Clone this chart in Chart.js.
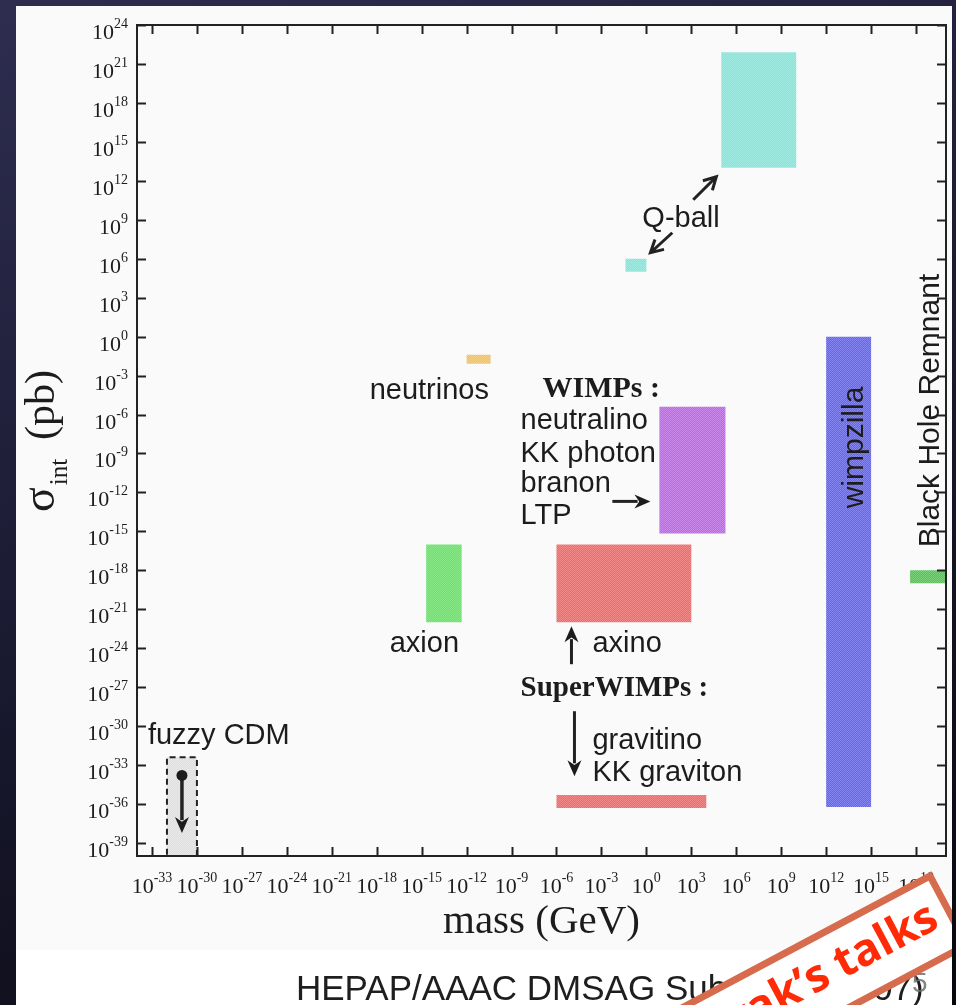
<!DOCTYPE html>
<html>
<head>
<meta charset="utf-8">
<title>Dark matter candidates</title>
<script src="https://cdn.jsdelivr.net/npm/chart.js@4.4.1/dist/chart.umd.min.js"></script>
<style>
  html, body { margin: 0; padding: 0; }
  body {
    width: 956px; height: 1005px; overflow: hidden; position: relative;
    background: linear-gradient(160deg, #2e2d50 0%, #1b1b33 45%, #07070d 100%);
  }
  #sheet { position: absolute; left: 16px; top: 6px; width: 936px; height: 999px; background: #ffffff; }
  #plotBg { position: absolute; left: 16px; top: 6px; width: 936px; height: 944px; background: #fafafa; }
  #chart { position: absolute; left: 0; top: 0; }
</style>
</head>
<body>
<div id="sheet"></div>
<div id="plotBg"></div>
<canvas id="chart" width="956" height="1005"></canvas>
<script>
// candidate regions: mass (GeV) and interaction cross section (pb)
const candidates = ['Q-ball', 'Q-ball', 'neutrinos', 'WIMPs', 'axion', 'axino', 'gravitino', 'wimpzilla', 'Black Hole Remnant', 'fuzzy CDM'];
const massMin  = [1e5,  0.04, 1e-12, 7.4,   2e-15,   1e-6,  1e-6,  1e12,  4e17,  1e-32];
const massMax  = [1e10, 1,    4e-11, 1.9e5, 4.7e-13, 1e3,   1e4,   1e15,  1e20,  1e-30];
const sigmaMin = [1e13, 1e5,  8e-3,  7e-16, 1e-22,   1e-22, 5e-37, 6e-37, 1e-19, 1e-40];
const sigmaMax = [8e21, 1e6,  4e-2,  4e-6,  1e-16,   1e-16, 5e-36, 1,     1e-18, 4e-33];
const fillColors = ['#84e6da', '#84e6da', '#f2c260', '#bc68e6', '#66e466', '#f06a6a', '#f06a6a', '#6464f0', '#54c454', '#e0e0e0'];

// fuzzy CDM upper limit and its arrow
const fuzzyMass = 1e-31;
const fuzzySigma = 1.6e-34;
const fuzzyArrowTo = 6e-39;

// tick exponents (powers of ten)
const massTicks = [-33, -30, -27, -24, -21, -18, -15, -12, -9, -6, -3, 0, 3, 6, 9, 12, 15, 18];
const sigmaTicks = [24, 21, 18, 15, 12, 9, 6, 3, 0, -3, -6, -9, -12, -15, -18, -21, -24, -27, -30, -33, -36, -39];

const SANS = "'Liberation Sans', Arial, sans-serif";
const SERIF = "'Liberation Serif', 'Times New Roman', serif";

// text placed at log10(mass), log10(sigma)
const notes = [
  { text: 'Q-ball', m: -0.27, s: 8.46 },
  { text: 'neutrinos', m: -18.47, s: -4.77 },
  { text: 'WIMPs :', m: -6.93, s: -4.62, font: 'bold 30px ' + SERIF },
  { text: 'neutralino', m: -8.4, s: -7.15 },
  { text: 'KK photon', m: -8.4, s: -9.62 },
  { text: 'branon', m: -8.4, s: -12.0 },
  { text: 'LTP', m: -8.4, s: -14.46 },
  { text: 'axion', m: -17.13, s: -24.31 },
  { text: 'axino', m: -3.6, s: -24.31 },
  { text: 'SuperWIMPs :', m: -8.4, s: -27.69, font: 'bold 29px ' + SERIF },
  { text: 'gravitino', m: -3.6, s: -31.77 },
  { text: 'KK graviton', m: -3.6, s: -34.23 },
  { text: 'fuzzy CDM', m: -33.27, s: -31.38 },
  { text: 'wimpzilla', m: 14.47, s: -8.54, rotate: true, font: '30px ' + SANS },
  { text: 'Black Hole Remnant', m: 19.53, s: -5.69, rotate: true, font: '30px ' + SANS }
];

const pointers = [
  { from: [3.13, 10.54], to: [4.67, 12.31], head: 'open' },
  { from: [1.73, 8.0], to: [0.27, 6.46], head: 'open' },
  { from: [-2.27, -12.69], to: [0.27, -12.69], head: 'solid' },
  { from: [-5.0, -25.23], to: [-5.0, -22.31], head: 'solid' },
  { from: [-4.8, -28.85], to: [-4.8, -33.85], head: 'solid' }
];

function dither(color) {
  const c = document.createElement('canvas');
  c.width = 2; c.height = 2;
  const g = c.getContext('2d');
  g.fillStyle = color;
  g.fillRect(0, 0, 2, 2);
  g.fillStyle = 'rgba(255,255,255,0.22)';
  g.fillRect(0, 0, 1, 1);
  g.fillRect(1, 1, 1, 1);
  return g.createPattern(c, 'repeat');
}

const datasets = candidates.map((name, i) => ({
  label: name,
  data: [
    { x: massMin[i], y: sigmaMin[i] },
    { x: massMax[i], y: sigmaMin[i] },
    { x: massMax[i], y: sigmaMax[i] },
    { x: massMin[i], y: sigmaMax[i] },
    { x: massMin[i], y: sigmaMin[i] }
  ],
  fill: 'shape',
  backgroundColor: dither(fillColors[i]),
  borderColor: name === 'fuzzy CDM' ? '#222' : 'transparent',
  borderWidth: name === 'fuzzy CDM' ? 2 : 0,
  borderDash: name === 'fuzzy CDM' ? [6, 4] : [],
  pointRadius: 0,
  tension: 0
}));

function arrow(ctx, x1, y1, x2, y2, head) {
  const ang = Math.atan2(y2 - y1, x2 - x1);
  const len = head === 'open' ? 14 : 16;
  ctx.beginPath();
  if (head === 'open') {
    ctx.moveTo(x1, y1);
    ctx.lineTo(x2, y2);
    ctx.moveTo(x2 - len * Math.cos(ang - 0.5), y2 - len * Math.sin(ang - 0.5));
    ctx.lineTo(x2, y2);
    ctx.lineTo(x2 - len * Math.cos(ang + 0.5), y2 - len * Math.sin(ang + 0.5));
    ctx.stroke();
  } else {
    ctx.moveTo(x1, y1);
    ctx.lineTo(x2 - len * 0.8 * Math.cos(ang), y2 - len * 0.8 * Math.sin(ang));
    ctx.stroke();
    ctx.beginPath();
    ctx.moveTo(x2, y2);
    ctx.lineTo(x2 - len * Math.cos(ang) + 7 * Math.sin(ang), y2 - len * Math.sin(ang) - 7 * Math.cos(ang));
    ctx.lineTo(x2 - len * 0.7 * Math.cos(ang), y2 - len * 0.7 * Math.sin(ang));
    ctx.lineTo(x2 - len * Math.cos(ang) - 7 * Math.sin(ang), y2 - len * Math.sin(ang) + 7 * Math.cos(ang));
    ctx.closePath();
    ctx.fill();
  }
}

function power(ctx, e, x, baseY, expY, align) {
  const exp = String(e);
  ctx.font = '22px ' + SERIF;
  const wb = ctx.measureText('10').width;
  ctx.font = '14px ' + SERIF;
  const we = ctx.measureText(exp).width;
  const left = align === 'right' ? x - wb - we : x - (wb + we) / 2;
  ctx.textAlign = 'left';
  ctx.font = '22px ' + SERIF;
  ctx.fillText('10', left, baseY);
  ctx.font = '14px ' + SERIF;
  ctx.fillText(exp, left + wb, expY);
}

const decorations = {
  id: 'decorations',
  afterDatasetsDraw(chart) {
    const { ctx, chartArea: a, scales: { x, y } } = chart;
    const px = m => x.getPixelForValue(Math.pow(10, m));
    const py = s => y.getPixelForValue(Math.pow(10, s));

    ctx.save();
    ctx.strokeStyle = '#222';
    ctx.fillStyle = '#1c1c1c';
    ctx.lineWidth = 2;
    ctx.strokeRect(a.left, a.top, a.right - a.left, a.bottom - a.top);

    // inward ticks on all four sides
    ctx.beginPath();
    massTicks.forEach(e => {
      const tx = Math.round(px(e)) + 0.5;
      ctx.moveTo(tx, a.bottom); ctx.lineTo(tx, a.bottom - 9);
      ctx.moveTo(tx, a.top); ctx.lineTo(tx, a.top + 9);
    });
    sigmaTicks.forEach(e => {
      const ty = Math.round(py(e)) + 0.5;
      ctx.moveTo(a.left, ty); ctx.lineTo(a.left + 9, ty);
      ctx.moveTo(a.right, ty); ctx.lineTo(a.right - 9, ty);
    });
    ctx.stroke();

    // fuzzy CDM limit
    const fx = x.getPixelForValue(fuzzyMass);
    ctx.lineWidth = 3.5;
    arrow(ctx, fx, y.getPixelForValue(fuzzySigma), fx, y.getPixelForValue(fuzzyArrowTo), 'solid');
    ctx.beginPath();
    ctx.arc(fx, y.getPixelForValue(fuzzySigma), 5.5, 0, Math.PI * 2);
    ctx.fill();

    ctx.lineWidth = 3;
    pointers.forEach(p => arrow(ctx, px(p.from[0]), py(p.from[1]), px(p.to[0]), py(p.to[1]), p.head));

    notes.forEach(n => {
      ctx.font = n.font || '29px ' + SANS;
      if (n.rotate) {
        ctx.save();
        ctx.translate(px(n.m), py(n.s));
        ctx.rotate(-Math.PI / 2);
        ctx.textAlign = 'center';
        ctx.fillText(n.text, 0, 0);
        ctx.restore();
      } else {
        ctx.textAlign = 'left';
        ctx.fillText(n.text, px(n.m), py(n.s));
      }
    });

    // tick labels
    sigmaTicks.forEach(e => {
      const ty = py(e);
      power(ctx, e, a.left - 9, ty + 14, ty + 3, 'right');
    });
    massTicks.forEach(e => {
      power(ctx, e, px(e), a.bottom + 37, a.bottom + 26, 'center');
    });

    // axis titles
    ctx.textAlign = 'center';
    ctx.font = '41px ' + SERIF;
    ctx.fillText('mass (GeV)', (a.left + a.right) / 2, a.bottom + 77);

    ctx.save();
    ctx.translate(54, 512);
    ctx.rotate(-Math.PI / 2);
    ctx.textAlign = 'left';
    ctx.font = '46px ' + SERIF;
    ctx.fillText('σ', 0, 0);
    const ws = ctx.measureText('σ').width;
    ctx.font = '25px ' + SERIF;
    ctx.fillText('int', ws + 2, 13);
    ctx.font = '42px ' + SERIF;
    ctx.fillText('(pb)', 72, 0);
    ctx.restore();

    // caption, slide number and stamp
    ctx.textAlign = 'left';
    ctx.font = '35px ' + SANS;
    ctx.fillStyle = '#1e1e1e';
    ctx.fillText('HEPAP/AAAC DMSAG Subpanel (2007)', 296, 1000);
    ctx.fillStyle = 'rgba(110,110,110,0.85)';
    ctx.font = '28px ' + SANS;
    ctx.fillText('5', 912, 992);

    ctx.beginPath();
    ctx.rect(16, 6, 936, 999);
    ctx.clip();
    ctx.translate(930, 876);
    ctx.rotate(-28 * Math.PI / 180);
    ctx.fillStyle = '#ffffff';
    ctx.fillRect(-420, 0, 420, 78);
    ctx.lineWidth = 7;
    ctx.strokeStyle = '#d66b4d';
    ctx.strokeRect(-420, 0, 420, 78);
    ctx.fillStyle = '#ff2a06';
    ctx.font = "bold 45px 'Open Sans', sans-serif";
    ctx.textAlign = 'right';
    ctx.fillText('Novak\u2019s talks', -14, 50);
    ctx.restore();
  }
};

new Chart(document.getElementById('chart'), {
  type: 'line',
  data: { datasets: datasets },
  options: {
    responsive: false,
    animation: false,
    devicePixelRatio: 1,
    layout: {
      padding: { left: 137, top: 25, right: 10, bottom: 149 }
    },
    plugins: {
      legend: { display: false },
      tooltip: { enabled: false }
    },
    scales: {
      x: { type: 'logarithmic', min: 1e-34, max: 1e20, display: false },
      y: { type: 'logarithmic', min: 1e-40, max: 1e24, display: false }
    }
  },
  plugins: [decorations]
});
</script>
</body>
</html>
